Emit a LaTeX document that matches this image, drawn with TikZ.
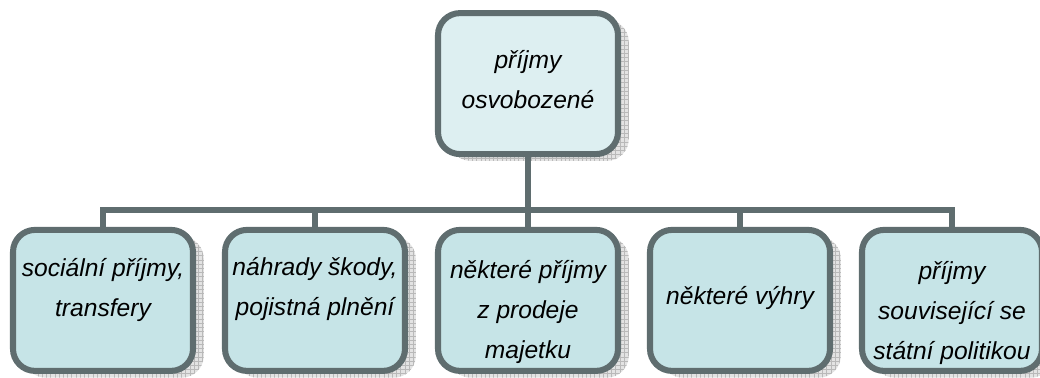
\documentclass[tikz,border=0pt]{standalone}
\usepackage{fontspec}
\setmainfont{Liberation Sans}
\usepackage{tikz}
\usetikzlibrary{
  positioning,
  shadows,
  patterns
}
\usepackage{xcolor}
\definecolor{rimgray}{RGB}{95,109,111}
\definecolor{boxblue}{RGB}{198,228,231}
\definecolor{rootblue}{RGB}{221,239,241}

\begin{document}
\begin{tikzpicture}[
  box/.style={draw=rimgray, line width=4.3pt, fill=boxblue, rounded corners=0.55cm,
    minimum width=4.5cm, minimum height=3.525cm,
    general shadow={shadow xshift=0.27cm, shadow yshift=-0.17cm, fill=gray!22,
      postaction={pattern=grid, pattern color=gray!55}}},
  txt/.style={align=center, inner sep=0pt,
    font=\fontsize{17.5}{28.5}\selectfont\itshape},
  link/.style={draw=rimgray, line width=4.3pt}
]
  \useasboundingbox (0,0) rectangle (26,-9.45);

  % Top: root box
  \node[box, fill=rootblue] (root) at (13.2,-2.09) {};
  \node[txt] (troot) at ([yshift=0.09cm]root.center) {příjmy\\osvobozené};

  % Bottom row: five kinds
  \node[box] (social) at (2.575,-7.51) {};
  \node[box] (damage) at (7.875,-7.51) {};
  \node[box] (sale)   at (13.2,-7.51) {};
  \node[box] (wins)   at (18.5,-7.51) {};
  \node[box] (policy) at (23.8,-7.51) {};

  \node[txt] (tsocial) at ([yshift=0.26cm]social.center) {sociální příjmy,\\transfery};
  \node[txt] (tdamage) at ([yshift=0.28cm]damage.center) {náhrady škody,\\pojistná plnění};
  \node[txt] (tsale)   at ([yshift=-0.29cm]sale.center) {některé příjmy\\z prodeje\\majetku};
  \node[txt] (twins)   at ([yshift=0.06cm]wins.center) {některé výhry};
  \node[txt] (tpolicy) at ([yshift=-0.31cm]policy.center) {příjmy\\související se\\státní politikou};

  % Tree links
  \foreach \kid in {social,damage,sale,wins,policy}
    \draw[link] (root.south) -- ++(0,-1.325) -| (\kid.north);
\end{tikzpicture}
\end{document}
